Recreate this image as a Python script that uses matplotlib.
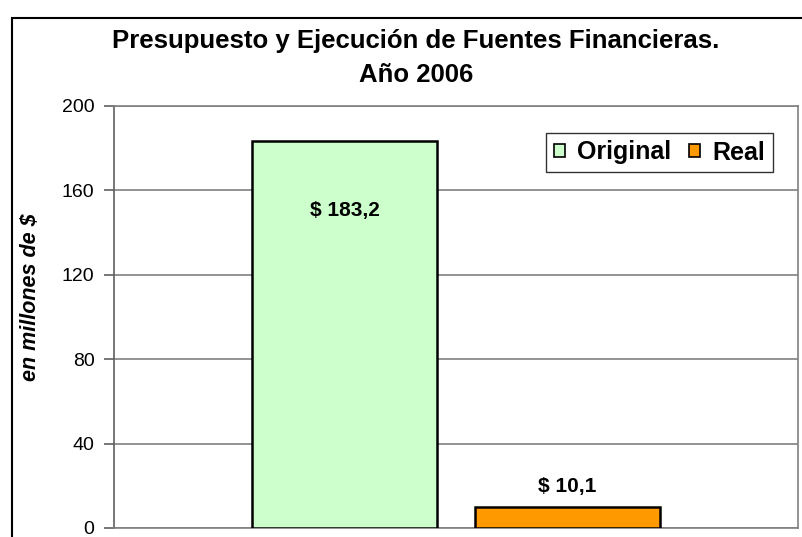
import matplotlib.pyplot as plt
from matplotlib.patches import Rectangle

series = ['Original', 'Real']
values = [183.2, 10.1]
labels = ['$ 183,2', '$ 10,1']
colors = ['#CCFFCC', '#FF9900']
yticks = [0, 40, 80, 120, 160, 200]

plt.rcParams['font.family'] = ['Liberation Sans', 'DejaVu Sans']

W, H = 802, 537
fig = plt.figure(figsize=(W / 100, H / 100), dpi=100)
# plot area in pixels: x 114..798, y 106..528
ax = fig.add_axes([114 / W, 1 - 528 / H, 684 / W, 422 / H])

pos = [-0.6, 0.6]
for p, v, c, s in zip(pos, values, colors, series):
    ax.bar(p, v, width=1.0, color=c, edgecolor='black', linewidth=1.8, label=s, zorder=3)

ax.set_xlim(-1.84, 1.84)
ax.set_ylim(0, 200)
ax.set_yticks(yticks)
ax.set_xticks([])
ax.yaxis.grid(True, color='#808080', linewidth=1.2, zorder=0)
ax.tick_params(axis='y', labelsize=14, length=7, width=1.2, color='#606060', direction='out', pad=7)
for side in ['top', 'right', 'left', 'bottom']:
    ax.spines[side].set_color('#808080')
    ax.spines[side].set_linewidth(1.2)
ax.spines['left'].set_color('#606060')

ax.text(pos[0], 150.7, labels[0], ha='center', va='center', fontsize=15, fontweight='bold', zorder=4)
ax.text(pos[1], values[1] + 9.5, labels[1], ha='center', va='center', fontsize=15, fontweight='bold', zorder=4)

fig.text(31 / W, 1 - 297 / H, 'en millones de $', rotation=90, ha='center', va='center',
         fontsize=15.5, fontweight='bold', fontstyle='italic')

leg = ax.legend(loc='upper right', bbox_to_anchor=(773 / W, 1 - 133 / H), bbox_transform=fig.transFigure,
                ncol=2, frameon=True, fancybox=False, edgecolor='black',
                prop={'size': 18, 'weight': 'bold'}, handlelength=0.45, handleheight=0.45,
                handletextpad=0.5, columnspacing=0.7, borderpad=0.3, borderaxespad=0)
leg.get_frame().set_linewidth(1.0)
for h in leg.legend_handles:
    h.set_linewidth(1.2)

fig.text(416 / W, 1 - 48 / H, 'Presupuesto y Ejecución de Fuentes Financieras.', ha='center', va='baseline',
         fontsize=18.5, fontweight='bold')
fig.text(416 / W, 1 - 82 / H, 'Año 2006', ha='center', va='baseline', fontsize=18.5, fontweight='bold')

# outer chart border
fig.add_artist(Rectangle((12 / W, -0.05), 1, 1 - 18 / H + 0.05, transform=fig.transFigure,
                         fill=False, edgecolor='black', linewidth=1.5))

fig.savefig('out.png', dpi=100)
